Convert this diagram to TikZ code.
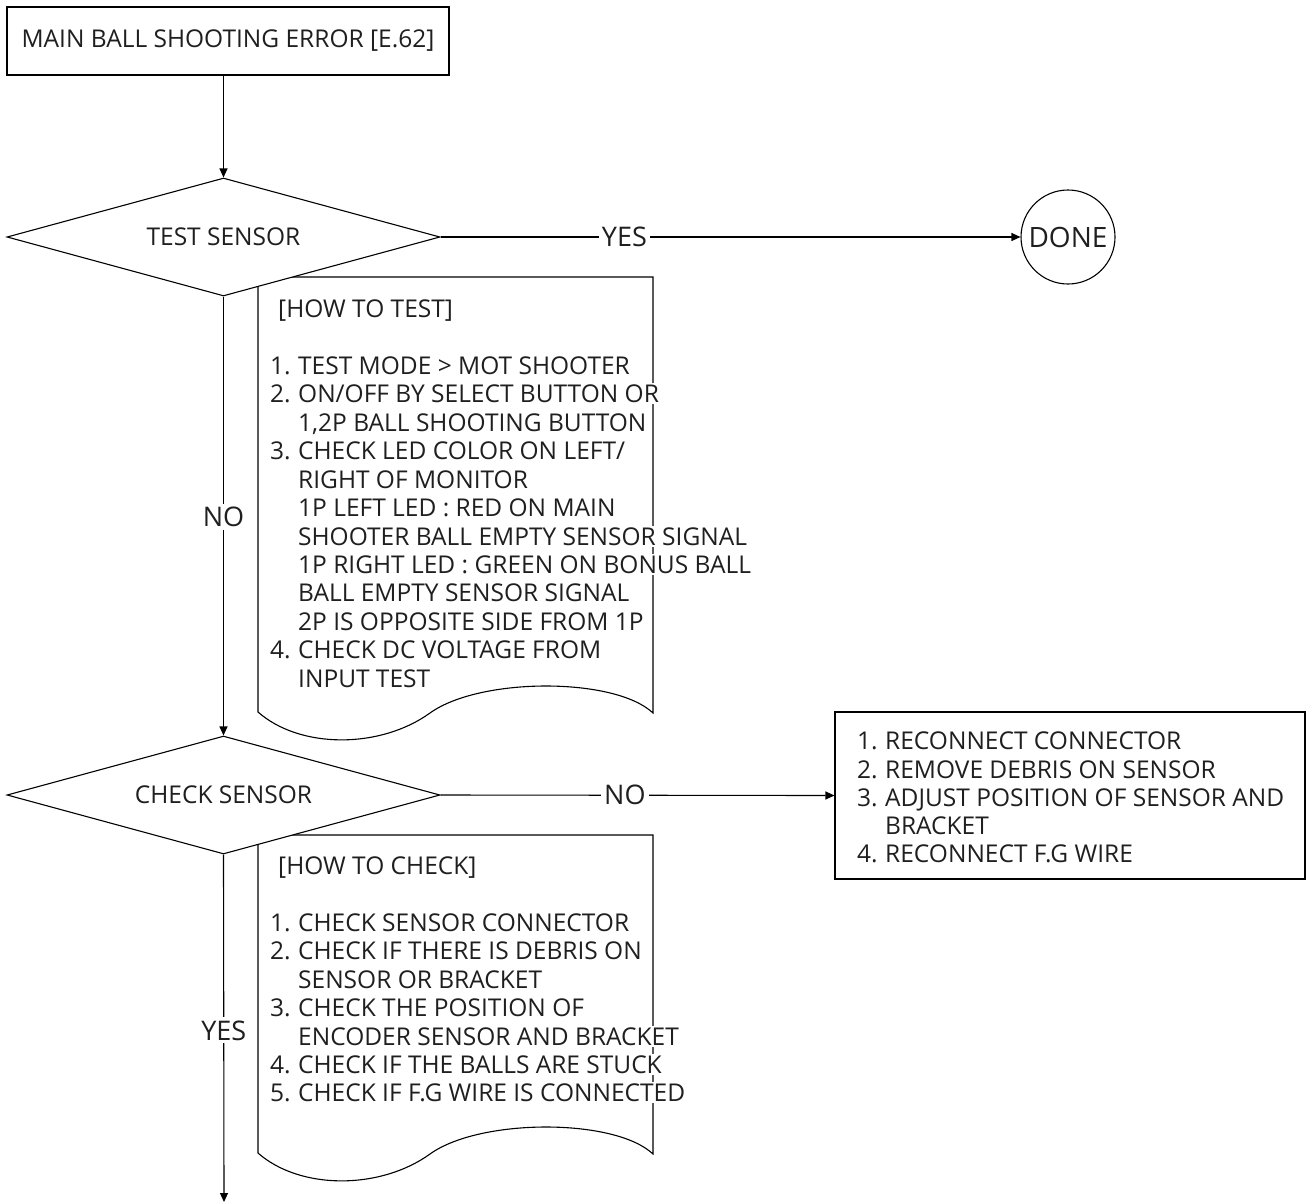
\documentclass[tikz,border=0pt]{standalone}
\usepackage{fontspec}
\setmainfont{Open Sans}
\usetikzlibrary{shapes.geometric,arrows.meta}
\newcommand\numw{28pt}
\newcommand\nl[1]{\makebox[\numw][l]{#1}}
\newcommand\ind{\hspace*{\numw}}
\begin{document}
\begin{tikzpicture}[x=1pt,y=-1pt,
  every node/.style={font=\fontsize{24.5}{28}\selectfont, text=black!88},
  box/.style={draw, line width=1.1pt, fill=white, inner sep=0pt},
  dia/.style={diamond, draw, line width=1.1pt, fill=white, inner sep=0pt, aspect=3.67, minimum width=433pt, minimum height=118pt},
  docshape/.style={draw, line width=1.1pt, fill=white},
  arr/.style={line width=1.1pt, -{Triangle[length=9pt,width=8pt]}},
  lbl/.style={fill=white, inner sep=3pt, font=\fontsize{27}{30}\selectfont},
  txt/.style={inner xsep=0pt, inner ysep=1.5pt, anchor=base west, fill=white},
]
\useasboundingbox (0,0) rectangle (1306,1202);

% document shapes (behind diamonds)
\draw[docshape] (258,277) -- (653,277) -- (653,713)
   .. controls (615,677) and (480,677) .. (430,713)
   .. controls (380,749) and (300,749) .. (258,712) -- cycle;
\draw[docshape] (258,835) -- (653,835) -- (653,1154)
   .. controls (615,1118) and (480,1118) .. (430,1154)
   .. controls (380,1190) and (300,1190) .. (258,1153) -- cycle;

% main nodes
\node[box, minimum width=442pt, minimum height=68pt] (start) at (228,41) {MAIN BALL SHOOTING ERROR [E.62]};
\node[dia] (d1) at (223.5,237) {TEST SENSOR};
\node[dia] (d2) at (223.5,795) {CHECK SENSOR};
\node[circle, draw, line width=1.1pt, inner sep=0pt, minimum size=94pt, font=\fontsize{28}{30}\selectfont] (done) at (1068,237) {DONE};
\node[box, minimum width=470pt, minimum height=167pt] (fix) at (1070,795.5) {};
\coordinate (endc) at (224,1202);

% connectors
\draw[arr] (start.south -| d1.north) -- (d1.north);
\draw[arr] (d1.east) -- node[lbl, pos=0.317] {YES} (done.west);
\draw[arr] (d1.south) -- node[lbl, pos=0.502] {NO} (d2.north);
\draw[arr] (d2.east) -- node[lbl, pos=0.468] {NO} (fix.west);
\draw[arr] (d2.south) -- node[lbl, pos=0.506] {YES} (endc);

% text of document 1
\node[txt] (t1h) at (278,317) {[HOW TO TEST]};
\node[txt] (t1a) at (270,374) {\nl{1.}TEST MODE > MOT SHOOTER};
\node[txt] (t1b) at (270,402) {\nl{2.}ON/OFF BY SELECT BUTTON OR};
\node[txt] (t1c) at (270,431) {\ind 1,2P BALL SHOOTING BUTTON};
\node[txt] (t1d) at (270,459) {\nl{3.}CHECK LED COLOR ON LEFT/};
\node[txt] (t1e) at (270,488) {\ind RIGHT OF MONITOR};
\node[txt] (t1f) at (270,516) {\ind 1P LEFT LED : RED ON MAIN};
\node[txt] (t1g) at (270,545) {\ind SHOOTER BALL EMPTY SENSOR SIGNAL};
\node[txt] (t1i) at (270,573) {\ind 1P RIGHT LED : GREEN ON BONUS BALL};
\node[txt] (t1j) at (270,601) {\ind BALL EMPTY SENSOR SIGNAL};
\node[txt] (t1k) at (270,630) {\ind 2P IS OPPOSITE SIDE FROM 1P};
\node[txt] (t1l) at (270,658) {\nl{4.}CHECK DC VOLTAGE FROM};
\node[txt] (t1m) at (270,687) {\ind INPUT TEST};

% text of document 2
\node[txt] (t2h) at (278,874) {[HOW TO CHECK]};
\node[txt] (t2a) at (270,931) {\nl{1.}CHECK SENSOR CONNECTOR};
\node[txt] (t2b) at (270,959) {\nl{2.}CHECK IF THERE IS DEBRIS ON};
\node[txt] (t2c) at (270,988) {\ind SENSOR OR BRACKET};
\node[txt] (t2d) at (270,1016) {\nl{3.}CHECK THE POSITION OF};
\node[txt] (t2e) at (270,1045) {\ind ENCODER SENSOR AND BRACKET};
\node[txt] (t2f) at (270,1073) {\nl{4.}CHECK IF THE BALLS ARE STUCK};
\node[txt] (t2g) at (270,1101) {\nl{5.}CHECK IF F.G WIRE IS CONNECTED};

% text of fix box
\node[txt] (f1) at (857,749) {\nl{1.}RECONNECT CONNECTOR};
\node[txt] (f2) at (857,778) {\nl{2.}REMOVE DEBRIS ON SENSOR};
\node[txt] (f3) at (857,806) {\nl{3.}ADJUST POSITION OF SENSOR AND};
\node[txt] (f4) at (857,834) {\ind BRACKET};
\node[txt] (f5) at (857,862) {\nl{4.}RECONNECT F.G WIRE};
\end{tikzpicture}
\end{document}
